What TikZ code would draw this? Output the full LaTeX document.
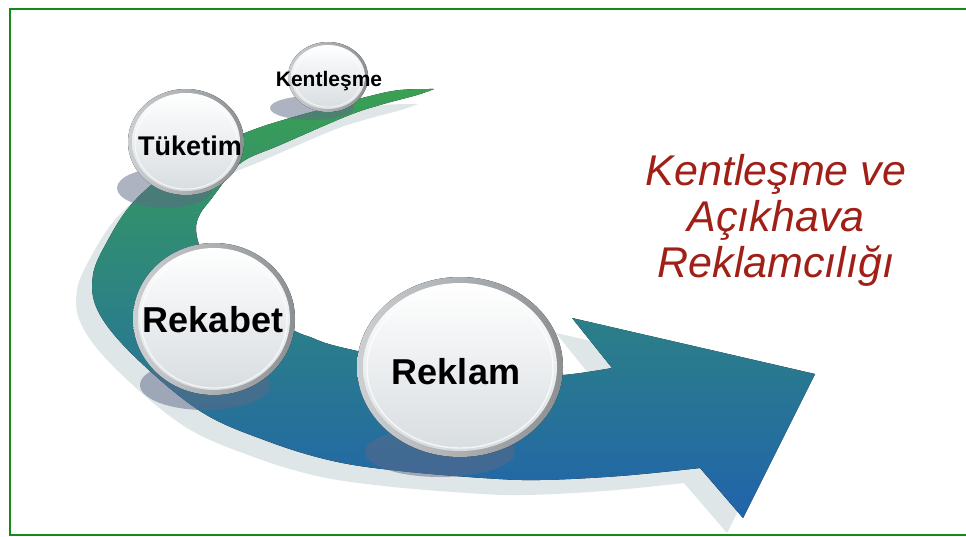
\documentclass[tikz,border=0pt]{standalone}
\usepackage{fontspec}
\setmainfont{Liberation Sans}
\usetikzlibrary{shapes.geometric}
\definecolor{bandgreen}{RGB}{58,160,82}
\definecolor{bandteal}{RGB}{44,130,132}
\definecolor{bandblue}{RGB}{33,99,172}
\definecolor{bandshadow}{RGB}{223,230,232}
\definecolor{sphshadow}{RGB}{95,105,135}
\definecolor{rimlight}{RGB}{205,208,210}
\definecolor{rimdark}{RGB}{140,144,146}
\definecolor{sphbot}{RGB}{216,221,224}
\definecolor{titlered}{RGB}{160,32,24}
\definecolor{framegreen}{RGB}{20,140,20}
\newcommand{\mybandpath}{%
  plot[smooth, tension=0.6] coordinates {(434,89) (400,90) (370,96) (330,107) (290,118) (250,131) (200,153) (160,178) (130,206) (108,240) (93,275) (98,311) (133,355) (200,411) (267,441) (333,461) (400,471) (483,478) (540,480) (620,476) (700,468)}
  -- (743,518) -- (815,374) -- (572,318) -- (612,368)
  -- plot[smooth, tension=0.6] coordinates {(612,368) (563,375) (500,377) (430,366) (340,347) (310,337) (293,330) (250,306) (218,278) (202,252) (196,230) (200,214) (212,198) (228,177) (245,160) (280,145) (347,116) (380,105) (417,95) (434,89)}
  -- cycle}
\begin{document}
\begin{tikzpicture}[x=1pt,y=-1pt,
  rim/.style={left color=rimlight, right color=rimdark},
  sphbody/.style={ellipse, inner sep=0pt, top color=white, bottom color=sphbot},
  sphtext/.style={font=\bfseries\fontsize{#1}{#1}\selectfont, text=black, inner sep=0pt},
  dropshadow/.style={fill=sphshadow, opacity=0.5},
  titletext/.style={font=\itshape\fontsize{43}{46}\selectfont, text=titlered, inner sep=0pt, anchor=base}]
\useasboundingbox (0,0) rectangle (966,536);
\clip (0,0) rectangle (966,536);
\fill[white] (0,0) rectangle (966,536);
% frame (top, left, bottom)
\draw[framegreen, line width=2.5pt] (1000,9) -- (10,9) -- (10,535) -- (1000,535);
% band shadow and band
\begin{scope}[shift={(-16,15)}]
  \fill[bandshadow] \mybandpath;
\end{scope}
\fill[top color=bandgreen, bottom color=bandblue, middle color=bandteal] \mybandpath;
% sphere shadows
\fill[dropshadow] (312,108) ellipse (42pt and 12pt);
\fill[dropshadow] (165,188) ellipse (48pt and 20pt);
\fill[dropshadow] (205,385) ellipse (65pt and 25pt);
\fill[dropshadow] (440,452) ellipse (75pt and 25pt);
% spheres
\fill[rim] (328,77) ellipse (40pt and 35pt);
\node[sphbody, minimum width=74, minimum height=64] (sK) at (328,77) {};
\draw[white, opacity=.7, line width=0.8pt] (328,78) ellipse (34pt and 29pt);
\fill[rim] (186,142) ellipse (58pt and 53pt);
\node[sphbody, minimum width=108, minimum height=98] (sT) at (186,142) {};
\draw[white, opacity=.7, line width=1pt] (186,143) ellipse (51pt and 46pt);
\fill[rim] (214,319) ellipse (81pt and 76pt);
\node[sphbody, minimum width=152, minimum height=142] (sRb) at (214,319) {};
\draw[white, opacity=.7, line width=1.2pt] (214,320) ellipse (73pt and 68pt);
\fill[rim] (460,367) ellipse (103pt and 90pt);
\node[sphbody, minimum width=194, minimum height=168] (sRk) at (460,367) {};
\draw[white, opacity=.7, line width=1.4pt] (460,368) ellipse (93pt and 80pt);
% sphere labels
\node[sphtext=21] (tK) at (329,81) {Kentleşme};
\node[sphtext=27] (tT) at (190,146) {Tüketim};
\node[sphtext=36] (tRb) at (213,320) {Rekabet};
\node[sphtext=36] (tRk) at (456,372) {Reklam};
% title
\node[titletext] (title1) at (776,185) {Kentleşme ve};
\node[titletext] (title2) at (776,231) {Açıkhava};
\node[titletext] (title3) at (776,277) {Reklamcılığı};
\end{tikzpicture}
\end{document}
